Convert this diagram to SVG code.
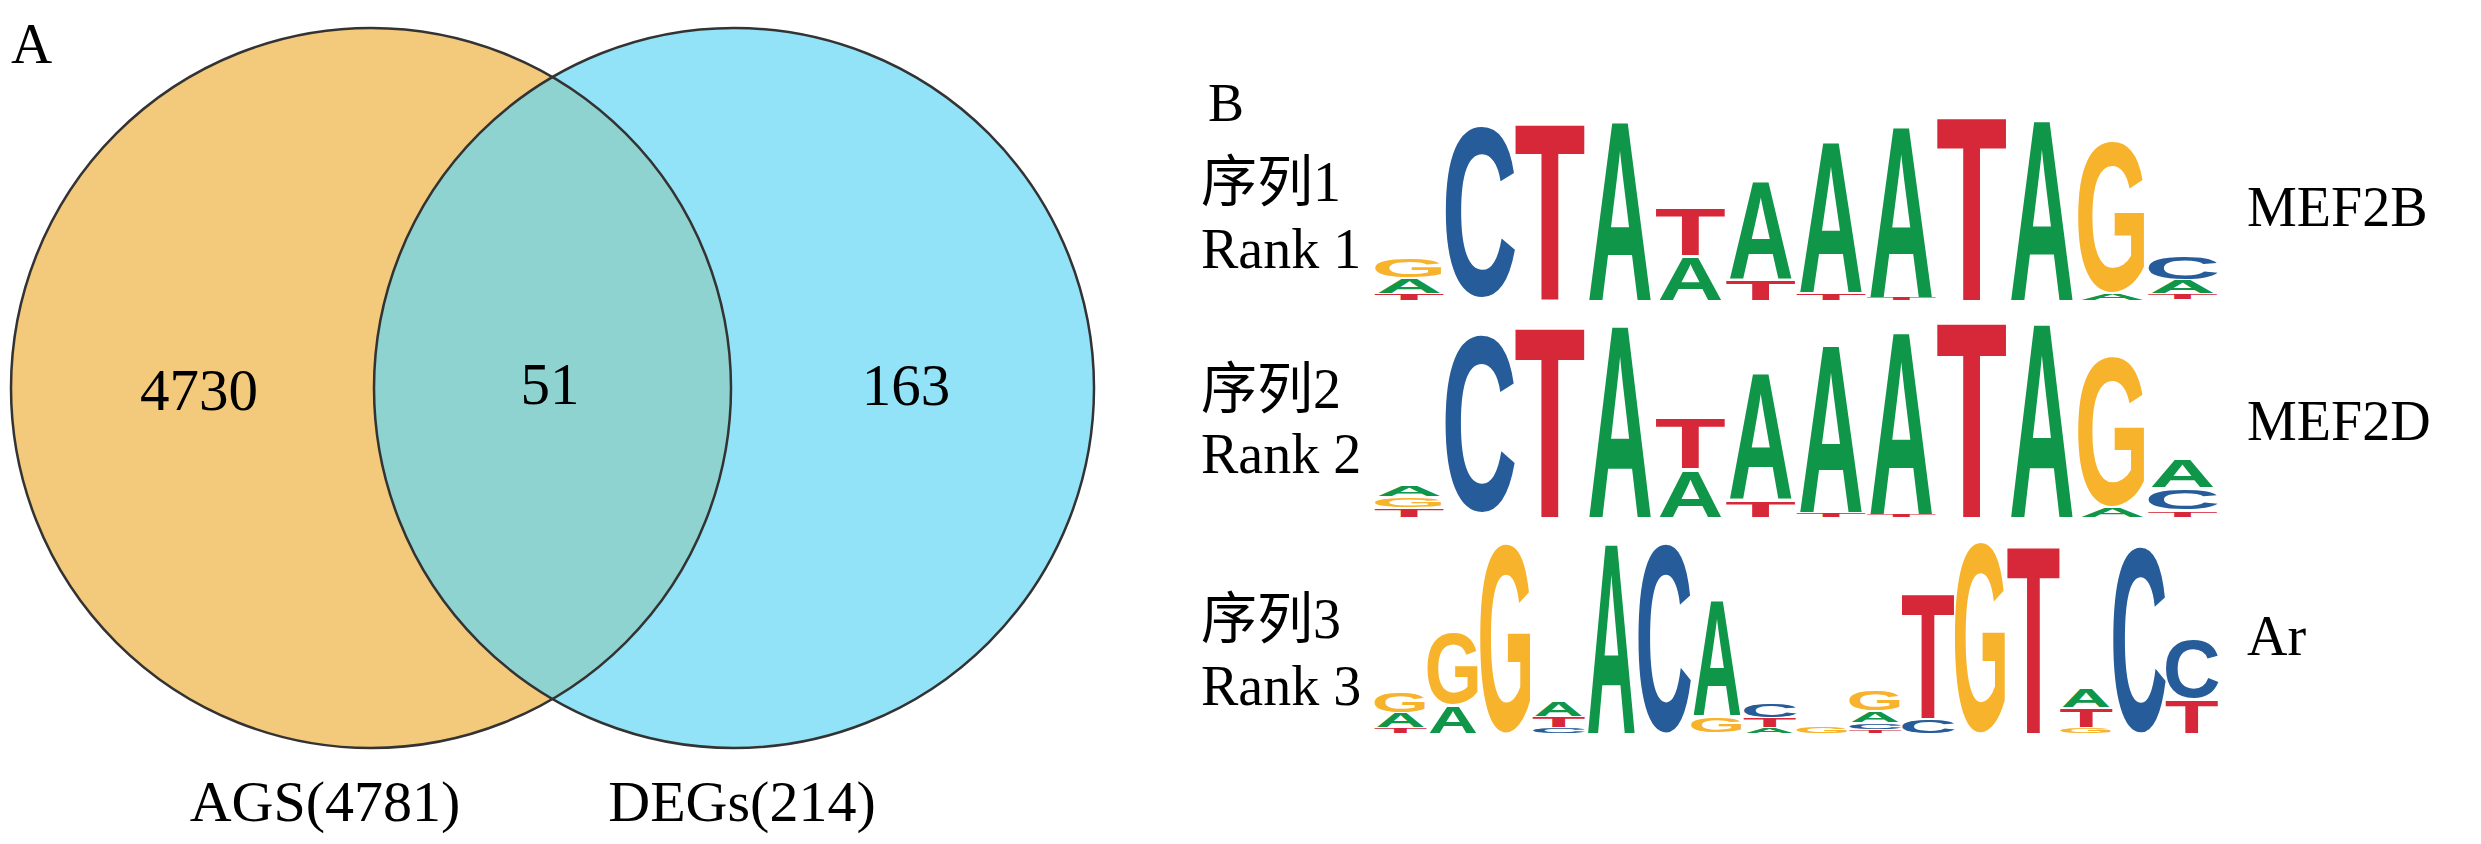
<svg xmlns="http://www.w3.org/2000/svg" width="2481" height="844" viewBox="0 0 2481 844">
<style>
.t{font-family:"Liberation Serif","Times New Roman","Noto Sans CJK SC",serif;fill:#000}
.lg{font-family:"Liberation Sans",Arial,sans-serif;font-weight:bold;font-size:100px;text-anchor:middle}
.a{fill:#109648}.c{fill:#255C99}.g{fill:#F7B32B}.tt{fill:#D62839}
.edge{fill:none;stroke:#333;stroke-width:2.5}
</style>
<rect width="2481" height="844" fill="#fff"/>
<g id="panelA">
<text class="t" x="11" y="63" font-size="57">A</text>
<g id="venn">
<circle id="setAGS" cx="371" cy="388" r="360" fill="#F3C97B"/>
<circle id="setDEGs" cx="734" cy="388" r="360" fill="#92E3F8"/>
<path id="overlap" d="M552.5,77.1 A360,360 0 0 1 552.5,698.9 A360,360 0 0 1 552.5,77.1 Z" fill="#8FD3D0"/>
<circle class="edge" cx="371" cy="388" r="360"/>
<circle class="edge" cx="734" cy="388" r="360"/>
</g>
<g class="t" font-size="59" text-anchor="middle">
<text x="199" y="410">4730</text>
<text x="550" y="404">51</text>
<text x="906" y="405">163</text>
</g>
<g class="t" font-size="58" text-anchor="middle">
<text x="325" y="821">AGS(4781)</text>
<text x="742" y="821">DEGs(214)</text>
</g>
</g>
<g id="panelB">
<text class="t" x="1208" y="121" font-size="54">B</text>
<g class="t" font-size="56">
<text x="1201" y="201">序列1</text>
<text x="1201" y="268">Rank 1</text>
<text x="1201" y="408">序列2</text>
<text x="1201" y="473">Rank 2</text>
<text x="1201" y="638">序列3</text>
<text x="1201" y="705">Rank 3</text>
<text x="2247" y="226">MEF2B</text>
<text x="2247" y="440">MEF2D</text>
<text x="2247" y="655">Ar</text>
</g>
<g id="logo1">
<text class="lg tt" transform="translate(1409.2 300) scale(1.166 0.0838)">T</text>
<text class="lg a" transform="translate(1409.2 293) scale(0.914 0.2095)">A</text>
<text class="lg g" transform="translate(1409.2 276.7) scale(0.973 0.2568)">G</text>
<text class="lg c" transform="translate(1479.5 295.1) scale(1.056 2.392)">C</text>
<text class="lg tt" transform="translate(1549.8 300) scale(1.166 2.528)">T</text>
<text class="lg a" transform="translate(1620.1 300) scale(0.914 2.556)">A</text>
<text class="lg a" transform="translate(1690.4 300) scale(0.914 0.6145)">A</text>
<text class="lg tt" transform="translate(1690.4 255) scale(1.166 0.6704)">T</text>
<text class="lg tt" transform="translate(1760.7 300) scale(1.166 0.2793)">T</text>
<text class="lg a" transform="translate(1760.7 279) scale(0.914 1.3827)">A</text>
<text class="lg tt" transform="translate(1831 300) scale(1.166 0.0978)">T</text>
<text class="lg a" transform="translate(1831 292) scale(0.914 2.1508)">A</text>
<text class="lg tt" transform="translate(1901.3 300) scale(1.166 0.0419)">T</text>
<text class="lg a" transform="translate(1901.3 297) scale(0.914 2.4441)">A</text>
<text class="lg tt" transform="translate(1971.6 300) scale(1.166 2.6257)">T</text>
<text class="lg a" transform="translate(2041.9 300) scale(0.914 2.5838)">A</text>
<text class="lg a" transform="translate(2112.2 300) scale(0.914 0.0838)">A</text>
<text class="lg g" transform="translate(2112.2 290.4) scale(0.973 2.1081)">G</text>
<text class="lg tt" transform="translate(2182.5 299) scale(1.166 0.0698)">T</text>
<text class="lg a" transform="translate(2182.5 293) scale(0.914 0.1816)">A</text>
<text class="lg c" transform="translate(2182.5 278.6) scale(1.056 0.3108)">C</text>
</g>
<g id="logo2">
<text class="lg tt" transform="translate(1409.2 517) scale(1.166 0.1117)">T</text>
<text class="lg g" transform="translate(1409.2 506.8) scale(0.973 0.1351)">G</text>
<text class="lg a" transform="translate(1409.2 496) scale(0.914 0.1397)">A</text>
<text class="lg c" transform="translate(1479.5 510) scale(1.056 2.4865)">C</text>
<text class="lg tt" transform="translate(1549.8 517) scale(1.166 2.7235)">T</text>
<text class="lg a" transform="translate(1620.1 517) scale(0.914 2.7514)">A</text>
<text class="lg a" transform="translate(1690.4 517) scale(0.914 0.6564)">A</text>
<text class="lg tt" transform="translate(1690.4 468) scale(1.166 0.6983)">T</text>
<text class="lg tt" transform="translate(1760.7 517) scale(1.166 0.2235)">T</text>
<text class="lg a" transform="translate(1760.7 499) scale(0.914 1.8017)">A</text>
<text class="lg tt" transform="translate(1831 517) scale(1.166 0.0559)">T</text>
<text class="lg a" transform="translate(1831 512) scale(0.914 2.4022)">A</text>
<text class="lg tt" transform="translate(1901.3 517) scale(1.166 0.0279)">T</text>
<text class="lg a" transform="translate(1901.3 514) scale(0.914 2.6117)">A</text>
<text class="lg tt" transform="translate(1971.6 517) scale(1.166 2.7933)">T</text>
<text class="lg a" transform="translate(2041.9 517) scale(0.914 2.7793)">A</text>
<text class="lg a" transform="translate(2112.2 517) scale(0.914 0.1257)">A</text>
<text class="lg g" transform="translate(2112.2 504.4) scale(0.973 2.0946)">G</text>
<text class="lg tt" transform="translate(2182.5 517) scale(1.166 0.0698)">T</text>
<text class="lg c" transform="translate(2182.5 508.7) scale(1.056 0.2703)">C</text>
<text class="lg a" transform="translate(2182.5 487) scale(0.914 0.3911)">A</text>
</g>
<g id="logo3">
<text class="lg tt" transform="translate(1400.4 733) scale(0.883 0.0698)">T</text>
<text class="lg a" transform="translate(1400.4 727) scale(0.6925 0.1955)">A</text>
<text class="lg g" transform="translate(1400.4 711.7) scale(0.7375 0.2703)">G</text>
<text class="lg a" transform="translate(1453.1 733) scale(0.6925 0.3771)">A</text>
<text class="lg g" transform="translate(1453.1 702.8) scale(0.7375 1.0)">G</text>
<text class="lg g" transform="translate(1505.9 729.8) scale(0.7375 2.6486)">G</text>
<text class="lg c" transform="translate(1558.6 732.9) scale(0.8 0.0676)">C</text>
<text class="lg tt" transform="translate(1558.6 727) scale(0.883 0.1397)">T</text>
<text class="lg a" transform="translate(1558.6 716) scale(0.6925 0.1955)">A</text>
<text class="lg a" transform="translate(1611.4 733) scale(0.6925 2.7235)">A</text>
<text class="lg c" transform="translate(1664.1 729.8) scale(0.8 2.6486)">C</text>
<text class="lg g" transform="translate(1716.9 731.75) scale(0.7375 0.2027)">G</text>
<text class="lg a" transform="translate(1716.9 715) scale(0.6925 1.648)">A</text>
<text class="lg a" transform="translate(1769.6 733) scale(0.6925 0.0698)">A</text>
<text class="lg tt" transform="translate(1769.6 727) scale(0.883 0.1257)">T</text>
<text class="lg c" transform="translate(1769.6 716.8) scale(0.8 0.1892)">C</text>
<text class="lg g" transform="translate(1822.4 732.9) scale(0.7375 0.0946)">G</text>
<text class="lg tt" transform="translate(1875.1 733) scale(0.883 0.0419)">T</text>
<text class="lg c" transform="translate(1875.1 728.9) scale(0.8 0.0811)">C</text>
<text class="lg a" transform="translate(1875.1 722) scale(0.6925 0.1397)">A</text>
<text class="lg g" transform="translate(1875.1 709.7) scale(0.7375 0.2703)">G</text>
<text class="lg c" transform="translate(1927.9 732.8) scale(0.8 0.1892)">C</text>
<text class="lg tt" transform="translate(1927.9 718) scale(0.883 1.7877)">T</text>
<text class="lg g" transform="translate(1980.6 729.7) scale(0.7375 2.6757)">G</text>
<text class="lg tt" transform="translate(2033.4 733) scale(0.883 2.6816)">T</text>
<text class="lg g" transform="translate(2086.1 732.9) scale(0.7375 0.0676)">G</text>
<text class="lg tt" transform="translate(2086.1 727) scale(0.883 0.2654)">T</text>
<text class="lg a" transform="translate(2086.1 707) scale(0.6925 0.2514)">A</text>
<text class="lg c" transform="translate(2138.9 729.8) scale(0.8 2.6081)">C</text>
<text class="lg tt" transform="translate(2191.6 733) scale(0.883 0.4609)">T</text>
<text class="lg c" transform="translate(2191.6 697) scale(0.8 0.8243)">C</text>
</g>
</g>
</svg>
